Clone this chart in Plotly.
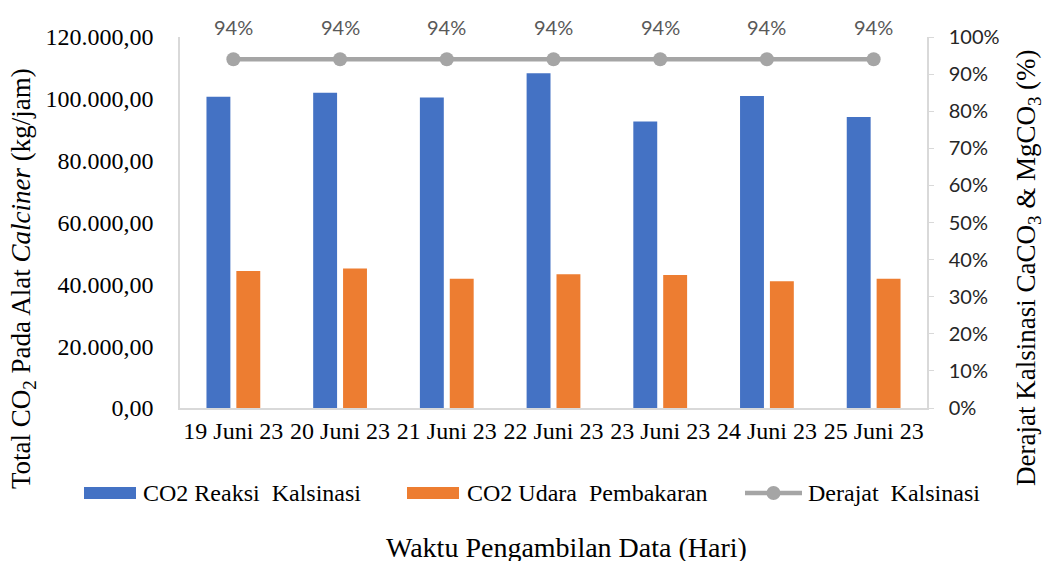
import plotly.graph_objects as go

categories = ["19 Juni 23", "20 Juni 23", "21 Juni 23", "22 Juni 23", "23 Juni 23", "24 Juni 23", "25 Juni 23"]
co2_reaksi = [100700, 102000, 100400, 108300, 92700, 100900, 94100]
co2_udara = [44300, 45100, 41800, 43300, 43000, 41000, 41800]
derajat = [0.94, 0.94, 0.94, 0.94, 0.94, 0.94, 0.94]

left_ticks = [0, 20000, 40000, 60000, 80000, 100000, 120000]
left_ticktext = ["0,00", "20.000,00", "40.000,00", "60.000,00", "80.000,00", "100.000,00", "120.000,00"]
right_ticks = [i / 10 for i in range(11)]
right_ticktext = [f"{i*10}%" for i in range(11)]

names = ["CO2 Reaksi  Kalsinasi", "CO2 Udara  Pembakaran", "Derajat  Kalsinasi"]
colors = ["#4472C4", "#ED7D31", "#A5A5A5"]

serif = "Liberation Serif"
sans = "Lato"

W, H = 1046, 561
L, R, T, B = 180, 119, 37, 153
PW, PH = W - L - R, H - T - B


def px(x):
    return (x - L) / PW


def py(y):
    return (H - B - y) / PH


fig = go.Figure()
fig.add_trace(go.Bar(x=categories, y=co2_reaksi, name=names[0],
                     marker=dict(color=colors[0], line=dict(width=0))))
fig.add_trace(go.Bar(x=categories, y=co2_udara, name=names[1],
                     marker=dict(color=colors[1], line=dict(width=0))))
fig.add_trace(go.Scatter(x=categories, y=derajat, name=names[2], yaxis="y2",
                         mode="lines+markers",
                         line=dict(color=colors[2], width=4.5),
                         marker=dict(color=colors[2], size=14)))

annotations = []
# data labels for the line
for c, v in zip(categories, derajat):
    annotations.append(dict(x=c, y=v, xref="x", yref="y2", text=f"{round(v*100)}%",
                            showarrow=False, yshift=32,
                            font=dict(family=sans, size=20, color="#595959")))

# titles
annotations += [
    dict(text="Waktu Pengambilan Data (Hari)", xref="paper", yref="paper",
         x=px(566), y=py(547), xanchor="center", yanchor="middle", showarrow=False,
         font=dict(family=serif, size=28, color="black")),
    dict(text="Total CO<sub>2</sub> Pada Alat <i>Calciner</i> (kg/jam)", xref="paper", yref="paper",
         x=px(23), y=py(279), xanchor="center", yanchor="middle", textangle=-90, showarrow=False,
         font=dict(family=serif, size=27, color="black")),
    dict(text="Derajat Kalsinasi CaCO<sub>3</sub> & MgCO<sub>3</sub> (%)", xref="paper", yref="paper",
         x=px(1028), y=py(268), xanchor="center", yanchor="middle", textangle=-90, showarrow=False,
         font=dict(family=serif, size=27, color="black")),
]

# manual legend
shapes = []
leg_y = 493
leg_items = [(84, 136, 141), (407, 459, 465), (745, 802, 806)]
for i, (x0, x1, tx) in enumerate(leg_items):
    if i < 2:
        shapes.append(dict(type="rect", xref="paper", yref="paper",
                           x0=px(x0), x1=px(x1), y0=py(leg_y + 6), y1=py(leg_y - 6),
                           fillcolor=colors[i], line=dict(width=0)))
    else:
        shapes.append(dict(type="line", xref="paper", yref="paper",
                           x0=px(x0), x1=px(x1), y0=py(leg_y), y1=py(leg_y),
                           line=dict(color=colors[i], width=4.5)))
        cx = (x0 + x1) / 2
        shapes.append(dict(type="circle", xref="paper", yref="paper",
                           x0=px(cx - 7), x1=px(cx + 7), y0=py(leg_y + 7), y1=py(leg_y - 7),
                           fillcolor=colors[i], line=dict(width=0)))
    annotations.append(dict(text=names[i].replace("  ", "&nbsp; "), xref="paper", yref="paper",
                            x=px(tx), y=py(leg_y), xanchor="left", yanchor="middle",
                            showarrow=False, font=dict(family=serif, size=24, color="black")))

fig.update_layout(
    width=W, height=H,
    margin=dict(l=L, r=R, t=T, b=B, autoexpand=False),
    plot_bgcolor="white", paper_bgcolor="white",
    showlegend=False,
    barmode="group", bargap=0.44, bargroupgap=0.2,
    font=dict(family=serif, size=24, color="black"),
    xaxis=dict(showline=True, linecolor="#D9D9D9", linewidth=1.5, showgrid=False,
               ticks="", tickfont=dict(family=serif, size=24, color="black")),
    yaxis=dict(range=[0, 120000], tickvals=left_ticks, ticktext=left_ticktext,
               showline=True, linecolor="#D9D9D9", linewidth=1.5, showgrid=False,
               zeroline=False, ticks="", ticklabelstandoff=20,
               tickfont=dict(family=serif, size=24, color="black")),
    yaxis2=dict(range=[0, 1], tickvals=right_ticks, ticktext=right_ticktext,
                overlaying="y", side="right", showline=True, linecolor="#D9D9D9",
                linewidth=1.5, showgrid=False, zeroline=False,
                ticks="outside", ticklen=5, tickcolor="#D9D9D9", ticklabelstandoff=11,
                tickfont=dict(family=sans, size=20, color="#262626")),
    annotations=annotations,
    shapes=shapes,
)

fig.write_html("out.html", config={"displayModeBar": False},
               post_script="document.body.style.margin='0';document.body.style.overflow='hidden';")
